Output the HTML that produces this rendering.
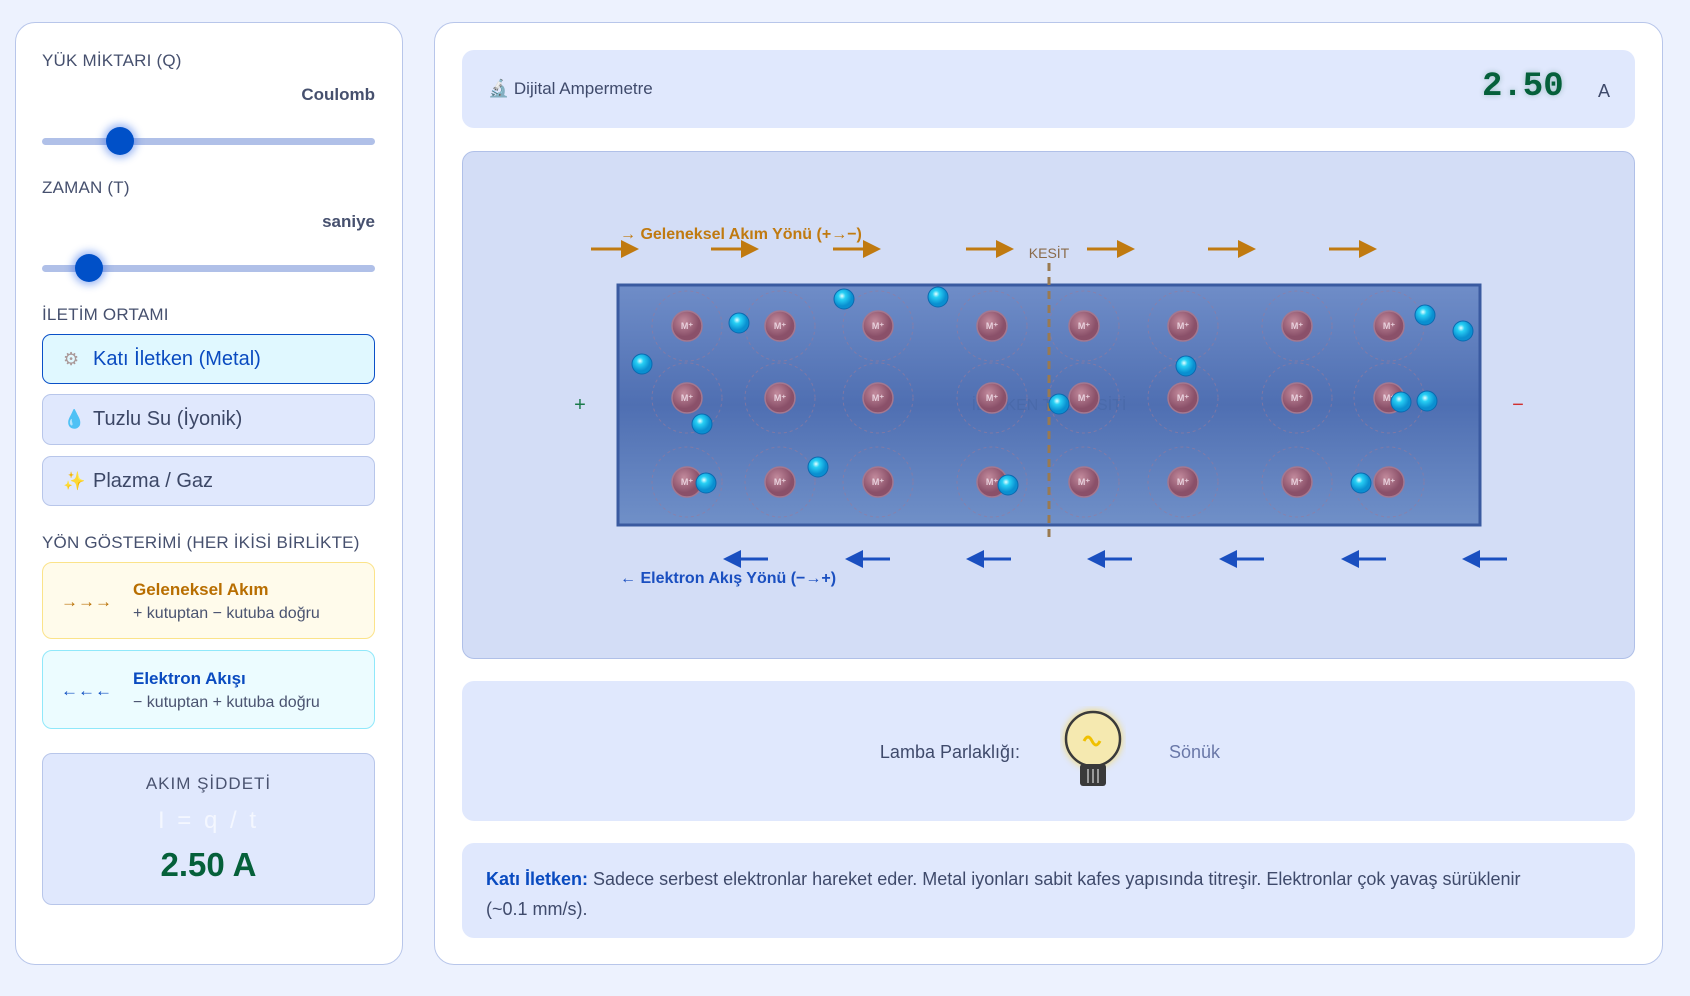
<!DOCTYPE html>
<html><head><meta charset="utf-8"><style>
*{box-sizing:border-box;margin:0;padding:0}
body{width:1690px;height:996px;background:#edf2fe;font-family:"Liberation Sans","DejaVu Sans",sans-serif;position:relative;overflow:hidden;color:#3f4a6b}
.a{position:absolute}
.panel{position:absolute;background:#fff;border:1.5px solid #b8c6ea;border-radius:20px}
.lbl{position:absolute;left:42px;font-size:17px;letter-spacing:0.2px;color:#46506e}
.unit{position:absolute;right:1315px;font-size:17px;font-weight:bold;color:#46506e}
.track{position:absolute;left:42px;width:333px;height:7px;border-radius:4px;background:#b0c0e8}
.thumb{position:absolute;width:28px;height:28px;border-radius:50%;background:#0050c8;box-shadow:0 0 8px 3px rgba(40,100,230,.45)}
.btn{position:absolute;left:42px;width:333px;border-radius:9px;border:1.5px solid #b8c6ea;background:#e0e8fd;font-size:20px;color:#3c4766;padding-left:50px;display:flex;align-items:center}
.ic{position:absolute;left:20px;font-size:18px}
.card{position:absolute;left:42px;width:333px;border-radius:10px}
.box{position:absolute;left:462px;width:1173px;background:#e0e8fd;border-radius:12px}
</style></head><body>
<div class="panel" style="left:15px;top:22px;width:388px;height:943px"></div>
<div class="lbl" style="top:51px">YÜK MİKTARI (Q)</div>
<div class="unit" style="top:85px">Coulomb</div>
<div class="track" style="top:138px"></div>
<div class="thumb" style="left:106px;top:127px"></div>
<div class="lbl" style="top:178px">ZAMAN (T)</div>
<div class="unit" style="top:212px">saniye</div>
<div class="track" style="top:265px"></div>
<div class="thumb" style="left:75px;top:254px"></div>
<div class="lbl" style="top:305px">İLETİM ORTAMI</div>
<div class="btn" style="top:334px;height:50px;background:#e0f8ff;border-color:#0a50c8;color:#0a4bc0"><span class="ic" style="color:#a99">⚙</span>Katı İletken (Metal)</div>
<div class="btn" style="top:394px;height:51px"><span class="ic" style="color:#4a9be8">💧</span>Tuzlu Su (İyonik)</div>
<div class="btn" style="top:456px;height:50px"><span class="ic" style="color:#f0a030">✨</span>Plazma / Gaz</div>
<div class="lbl" style="top:533px">YÖN GÖSTERİMİ (HER İKİSİ BİRLİKTE)</div>
<div class="card" style="top:562px;height:77px;background:#fffbeb;border:1.5px solid #fbe38a">
 <div class="a" style="left:18px;top:29px;color:#b86e00;font-size:17px">→→→</div>
 <div class="a" style="left:90px;top:17px;color:#b86e00;font-size:17px;font-weight:bold">Geleneksel Akım</div>
 <div class="a" style="left:90px;top:42px;font-size:16px;color:#4a5370">+ kutuptan − kutuba doğru</div>
</div>
<div class="card" style="top:650px;height:79px;background:#ecfcff;border:1.5px solid #90e8fa">
 <div class="a" style="left:18px;top:30px;color:#0a4bc0;font-size:17px">←←←</div>
 <div class="a" style="left:90px;top:18px;color:#0a4bc0;font-size:17px;font-weight:bold">Elektron Akışı</div>
 <div class="a" style="left:90px;top:43px;font-size:16px;color:#4a5370">− kutuptan + kutuba doğru</div>
</div>
<div class="card" style="top:753px;height:152px;background:#e0e8fd;border:1.5px solid #b8c6ea;text-align:center">
 <div class="a" style="left:0;width:100%;top:20px;font-size:17px;letter-spacing:1px;color:#4a5370">AKIM ŞİDDETİ</div>
 <div class="a" style="left:0;width:100%;top:53px;font-size:24px;color:#f4f7ff;letter-spacing:3px">I = q / t</div>
 <div class="a" style="left:0;width:100%;top:92px;font-size:33px;font-weight:bold;color:#05603a">2.50 A</div>
</div>

<div class="panel" style="left:434px;top:22px;width:1229px;height:943px"></div>
<div class="box" style="top:50px;height:78px"></div>
<div class="a" style="left:488px;top:79px;font-size:17px;color:#3f4a6b">🔬 Dijital Ampermetre</div>
<div class="a" style="left:1482px;top:68px;font-size:34px;font-family:'Liberation Mono',monospace;font-weight:bold;color:#05603a;text-shadow:0 0 6px rgba(5,96,58,.3)">2.50</div>
<div class="a" style="left:1598px;top:81px;font-size:18px">A</div>

<div class="box" style="top:151px;height:508px;background:#d3ddf6;border:1.5px solid #b0c0e8"></div>
<svg class="a" style="left:0;top:0" width="1690" height="996">
<defs>
<linearGradient id="g" x1="0" y1="0" x2="0" y2="1"><stop offset="0" stop-color="#6f8dc8"/><stop offset=".5" stop-color="#4f6fb2"/><stop offset="1" stop-color="#7090c8"/></linearGradient>
<radialGradient id="ion" cx=".4" cy=".35"><stop offset="0" stop-color="#c28a9c"/><stop offset="1" stop-color="#8a5069"/></radialGradient>
<radialGradient id="el" cx=".4" cy=".35"><stop offset="0" stop-color="#e6ffff"/><stop offset=".35" stop-color="#28d0f5"/><stop offset="1" stop-color="#0a8fd0"/></radialGradient>
<marker id="ao" markerWidth="6" markerHeight="6" refX="5" refY="3" orient="auto"><path d="M0,0L6,3L0,6z" fill="#c07a10"/></marker>
<marker id="ab" markerWidth="6" markerHeight="6" refX="5" refY="3" orient="auto"><path d="M0,0L6,3L0,6z" fill="#1a4fc0"/></marker>
</defs>
<g stroke="#c07a10" stroke-width="3" marker-end="url(#ao)">
<line x1="591" y1="249" x2="636" y2="249"/><line x1="711" y1="249" x2="756" y2="249"/><line x1="833" y1="249" x2="878" y2="249"/><line x1="966" y1="249" x2="1011" y2="249"/><line x1="1087" y1="249" x2="1132" y2="249"/><line x1="1208" y1="249" x2="1253" y2="249"/><line x1="1329" y1="249" x2="1374" y2="249"/>
</g>
<text x="620" y="239" font-size="16" font-weight="bold" fill="#c07a10" font-family="Liberation Sans">→ Geleneksel Akım Yönü  (+→−)</text>
<text x="1049" y="258" font-size="14" fill="#8a6a4a" text-anchor="middle" font-family="Liberation Sans">KESİT</text>
<rect x="618" y="285" width="862" height="240" fill="url(#g)" stroke="#3a5aa0" stroke-width="3"/>
<text x="1049" y="410" font-size="16" fill="#4a6aaa" text-anchor="middle" font-family="Liberation Sans">İLETKEN TEL KESİTİ</text>
<g>
<g stroke="#9a7a9a" stroke-dasharray="3 3" fill="none" opacity=".6">
<circle cx="687" cy="326" r="35"/><circle cx="780" cy="326" r="35"/><circle cx="878" cy="326" r="35"/><circle cx="992" cy="326" r="35"/><circle cx="1084" cy="326" r="35"/><circle cx="1183" cy="326" r="35"/><circle cx="1297" cy="326" r="35"/><circle cx="1389" cy="326" r="35"/>
<circle cx="687" cy="398" r="35"/><circle cx="780" cy="398" r="35"/><circle cx="878" cy="398" r="35"/><circle cx="992" cy="398" r="35"/><circle cx="1084" cy="398" r="35"/><circle cx="1183" cy="398" r="35"/><circle cx="1297" cy="398" r="35"/><circle cx="1389" cy="398" r="35"/>
<circle cx="687" cy="482" r="35"/><circle cx="780" cy="482" r="35"/><circle cx="878" cy="482" r="35"/><circle cx="992" cy="482" r="35"/><circle cx="1084" cy="482" r="35"/><circle cx="1183" cy="482" r="35"/><circle cx="1297" cy="482" r="35"/><circle cx="1389" cy="482" r="35"/>
</g>
<g fill="url(#ion)" stroke="#a47890" stroke-width="1.5">
<circle cx="687" cy="326" r="15"/><circle cx="780" cy="326" r="15"/><circle cx="878" cy="326" r="15"/><circle cx="992" cy="326" r="15"/><circle cx="1084" cy="326" r="15"/><circle cx="1183" cy="326" r="15"/><circle cx="1297" cy="326" r="15"/><circle cx="1389" cy="326" r="15"/>
<circle cx="687" cy="398" r="15"/><circle cx="780" cy="398" r="15"/><circle cx="878" cy="398" r="15"/><circle cx="992" cy="398" r="15"/><circle cx="1084" cy="398" r="15"/><circle cx="1183" cy="398" r="15"/><circle cx="1297" cy="398" r="15"/><circle cx="1389" cy="398" r="15"/>
<circle cx="687" cy="482" r="15"/><circle cx="780" cy="482" r="15"/><circle cx="878" cy="482" r="15"/><circle cx="992" cy="482" r="15"/><circle cx="1084" cy="482" r="15"/><circle cx="1183" cy="482" r="15"/><circle cx="1297" cy="482" r="15"/><circle cx="1389" cy="482" r="15"/>
</g>
<g font-size="9" fill="#e8d0dc" text-anchor="middle" font-family="Liberation Sans" font-weight="bold">
<text x="687" y="329">M⁺</text><text x="780" y="329">M⁺</text><text x="878" y="329">M⁺</text><text x="992" y="329">M⁺</text><text x="1084" y="329">M⁺</text><text x="1183" y="329">M⁺</text><text x="1297" y="329">M⁺</text><text x="1389" y="329">M⁺</text>
<text x="687" y="401">M⁺</text><text x="780" y="401">M⁺</text><text x="878" y="401">M⁺</text><text x="992" y="401">M⁺</text><text x="1084" y="401">M⁺</text><text x="1183" y="401">M⁺</text><text x="1297" y="401">M⁺</text><text x="1389" y="401">M⁺</text>
<text x="687" y="485">M⁺</text><text x="780" y="485">M⁺</text><text x="878" y="485">M⁺</text><text x="992" y="485">M⁺</text><text x="1084" y="485">M⁺</text><text x="1183" y="485">M⁺</text><text x="1297" y="485">M⁺</text><text x="1389" y="485">M⁺</text>
</g>
</g>
<line x1="1049" y1="263" x2="1049" y2="537" stroke="#9a7a50" stroke-width="3" stroke-dasharray="8 6"/>
<g fill="url(#el)" stroke="#0a6ab0" stroke-width="1">
<circle cx="844" cy="299" r="10"/><circle cx="938" cy="297" r="10"/><circle cx="739" cy="323" r="10"/><circle cx="642" cy="364" r="10"/><circle cx="702" cy="424" r="10"/><circle cx="818" cy="467" r="10"/><circle cx="706" cy="483" r="10"/><circle cx="1008" cy="485" r="10"/><circle cx="1059" cy="404" r="10"/><circle cx="1186" cy="366" r="10"/><circle cx="1425" cy="315" r="10"/><circle cx="1463" cy="331" r="10"/><circle cx="1401" cy="402" r="10"/><circle cx="1427" cy="401" r="10"/><circle cx="1361" cy="483" r="10"/>
</g>
<g stroke="#1a4fc0" stroke-width="3" marker-end="url(#ab)">
<line x1="768" y1="559" x2="726" y2="559"/><line x1="890" y1="559" x2="848" y2="559"/><line x1="1011" y1="559" x2="969" y2="559"/><line x1="1132" y1="559" x2="1090" y2="559"/><line x1="1264" y1="559" x2="1222" y2="559"/><line x1="1386" y1="559" x2="1344" y2="559"/><line x1="1507" y1="559" x2="1465" y2="559"/>
</g>
<text x="620" y="583" font-size="16" font-weight="bold" fill="#1a4fc0" font-family="Liberation Sans">← Elektron Akış Yönü  (−→+)</text>
<text x="580" y="411" font-size="20" fill="#1a7a4a" text-anchor="middle" font-family="Liberation Sans">+</text>
<text x="1518" y="411" font-size="20" fill="#d03030" text-anchor="middle" font-family="Liberation Sans">−</text>
</svg>

<div class="box" style="top:681px;height:140px"></div>
<div class="a" style="left:860px;top:742px;width:160px;text-align:right;font-size:18px">Lamba Parlaklığı:</div>
<svg class="a" style="left:1060px;top:706px" width="66" height="86">
<circle cx="33" cy="33" r="27" fill="#f5e9b0" stroke="#3a3a3a" stroke-width="2.5" style="filter:drop-shadow(0 0 4px #f5d860)"/>
<path d="M24,35 q4,-8 8,0 t8,0" fill="none" stroke="#f0c000" stroke-width="3"/>
<rect x="20" y="58" width="26" height="22" rx="3" fill="#3a3a3a"/>
<line x1="28" y1="63" x2="28" y2="77" stroke="#bbb" stroke-width="1.5"/><line x1="33" y1="63" x2="33" y2="77" stroke="#bbb" stroke-width="1.5"/><line x1="38" y1="63" x2="38" y2="77" stroke="#bbb" stroke-width="1.5"/>
</svg>
<div class="a" style="left:1169px;top:742px;font-size:18px;color:#6a78a8">Sönük</div>

<div class="box" style="top:843px;height:95px"></div>
<div class="a" style="left:486px;top:864px;width:1110px;font-size:18px;line-height:30px;color:#3f4a6b"><b style="color:#0a4bc0">Katı İletken:</b> Sadece serbest elektronlar hareket eder. Metal iyonları sabit kafes yapısında titreşir. Elektronlar çok yavaş sürüklenir<br>(~0.1 mm/s).</div>
</body></html>
